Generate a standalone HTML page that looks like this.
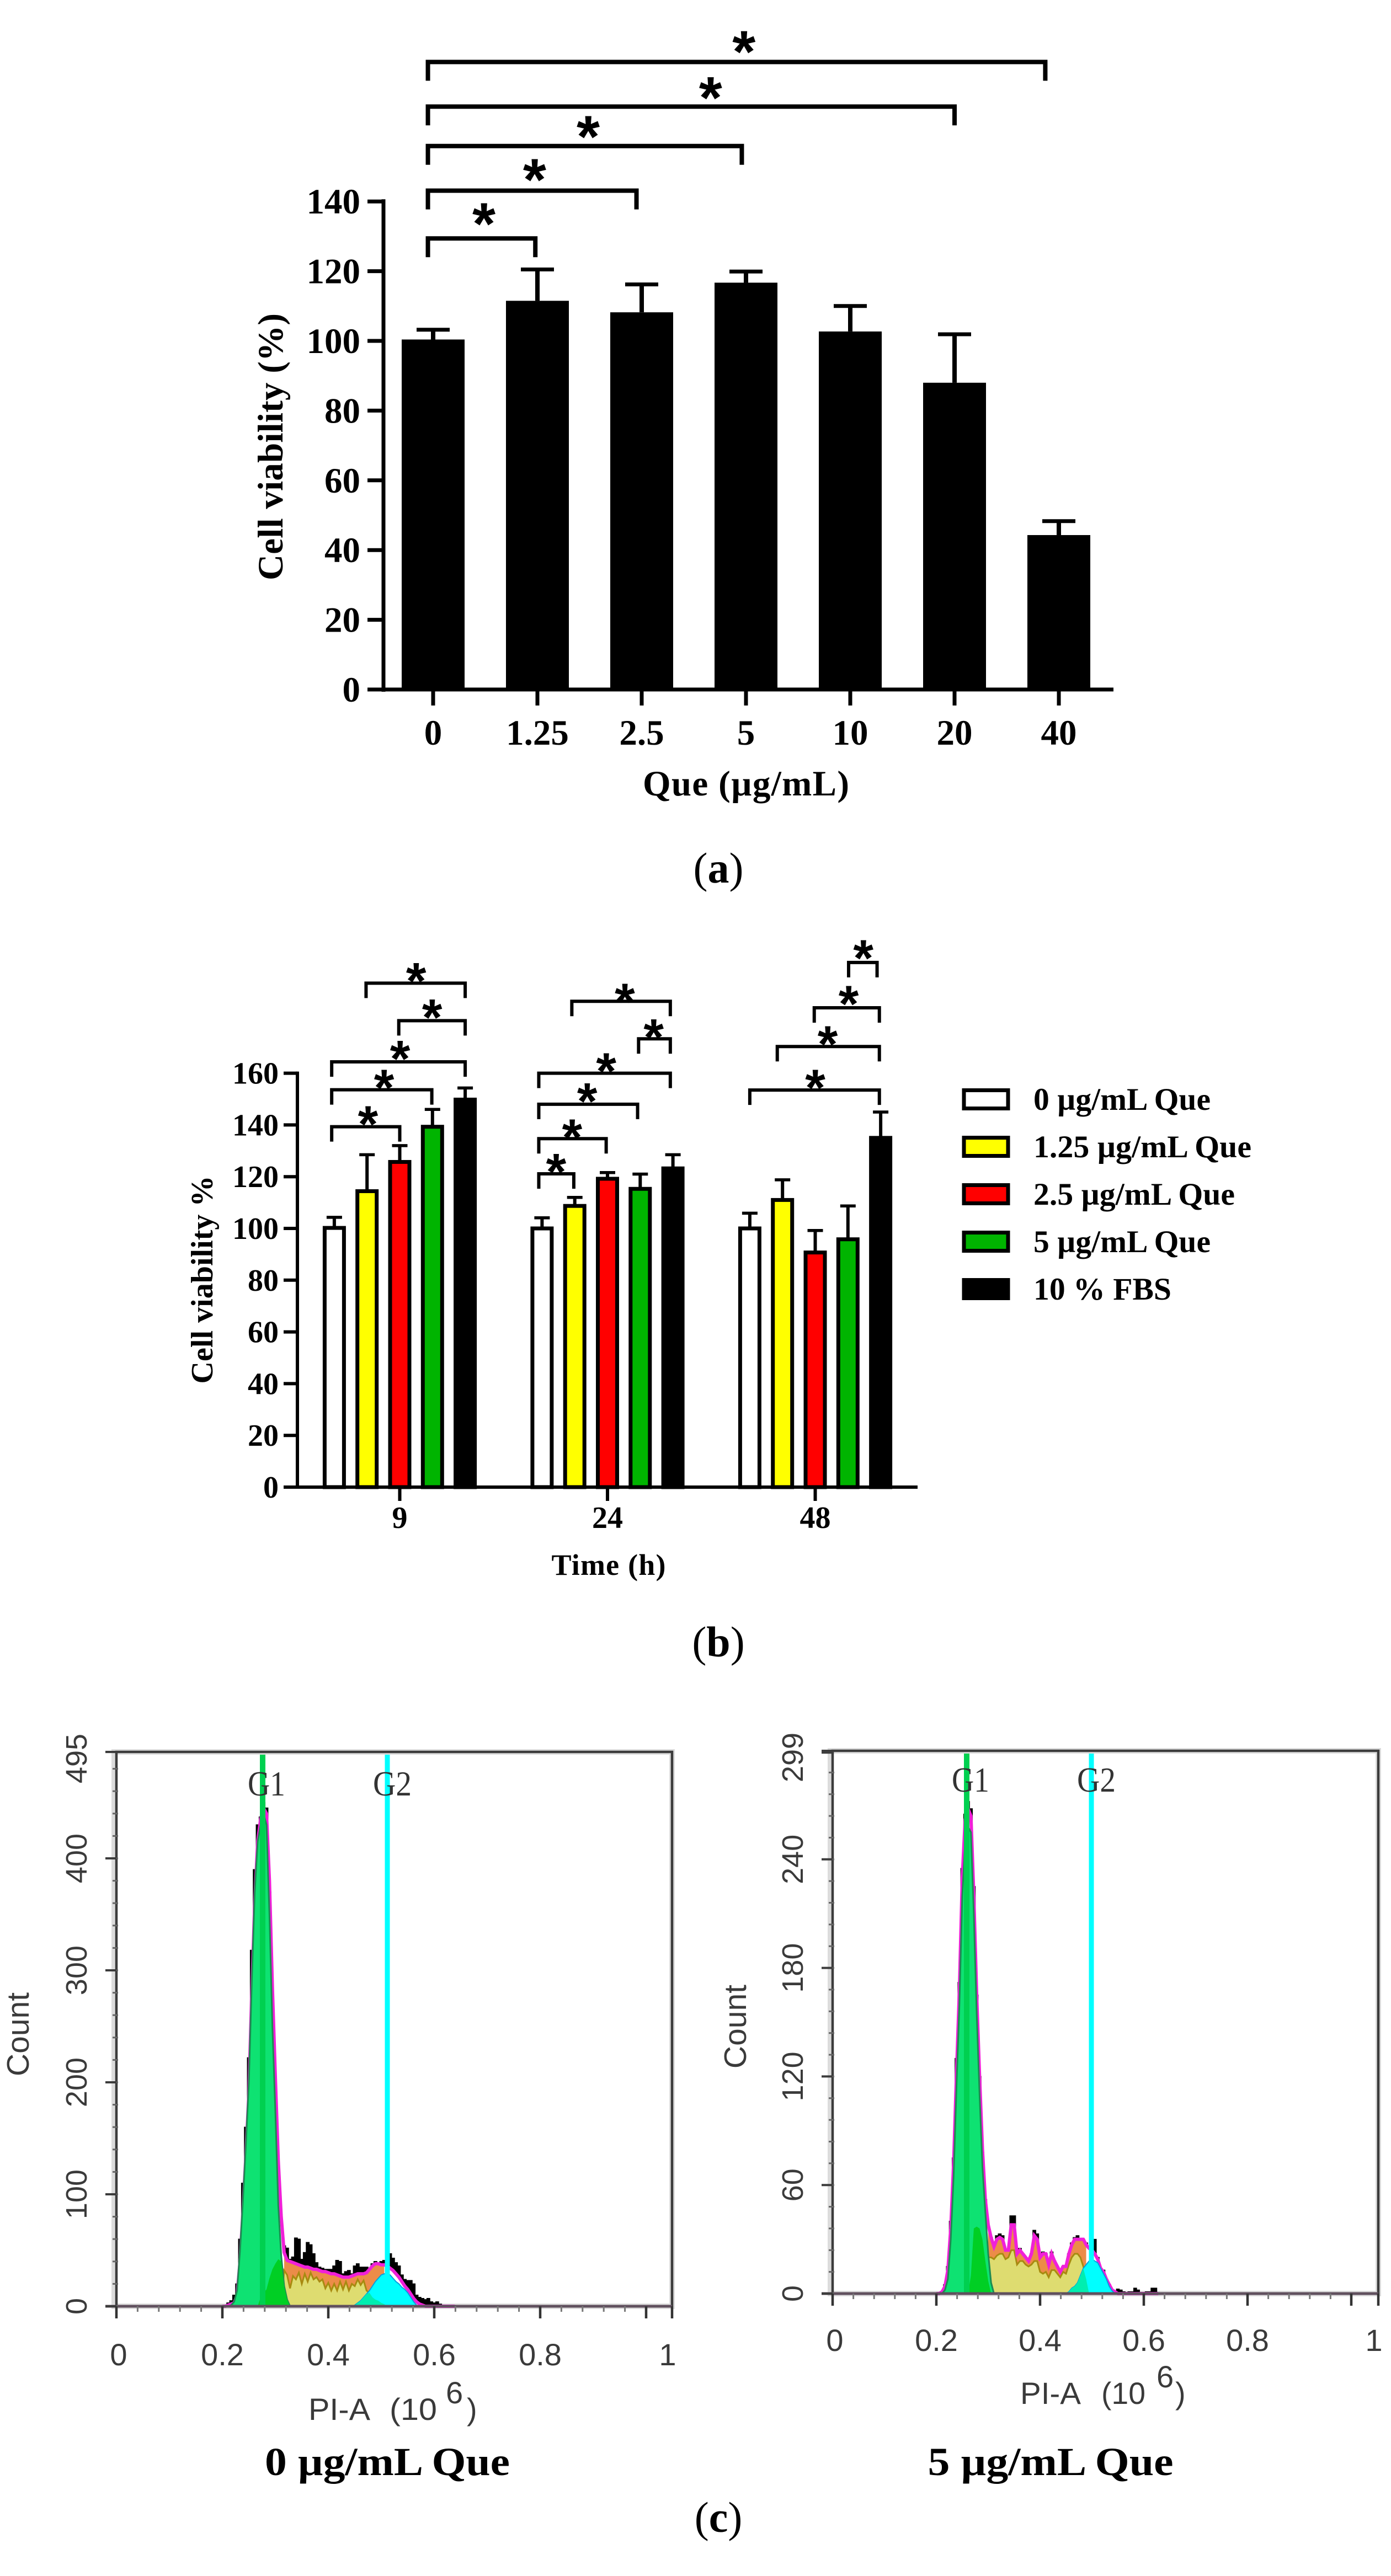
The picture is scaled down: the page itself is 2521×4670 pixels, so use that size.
<!DOCTYPE html>
<html lang="en">
<head>
<meta charset="utf-8">
<title>Cell viability and cell cycle figure</title>
<style>
html,body{margin:0;padding:0;background:#fff;}
svg{display:block;}
text{font-family:"Liberation Serif",serif;}
.sans{font-family:"Liberation Sans",sans-serif;fill:#3a3a3a;}
.star{font-family:"Liberation Sans",sans-serif;font-weight:bold;fill:#000;}
.b{font-weight:bold;fill:#000;}
</style>
</head>
<body>
<svg id="figure" xmlns="http://www.w3.org/2000/svg" width="2521" height="4670" viewBox="0 0 2521 4670">
  <rect x="0" y="0" width="2521" height="4670" fill="#fff"/>
  <g id="panelA"></g>
  <text x="1302" y="1600" font-size="78" text-anchor="middle">(<tspan font-weight="bold">a</tspan>)</text>
  <g id="panelB"></g>
  <text x="1302" y="3003" font-size="78" text-anchor="middle">(<tspan font-weight="bold">b</tspan>)</text>
  <g id="panelC1"></g>
  <g id="panelC2"></g>
  <text class="b" x="702" y="4487" font-size="72" text-anchor="middle" textLength="444" lengthAdjust="spacingAndGlyphs">0 µg/mL Que</text>
  <text class="b" x="1904" y="4487" font-size="72" text-anchor="middle" textLength="445" lengthAdjust="spacingAndGlyphs">5 µg/mL Que</text>
  <text x="1302" y="4590" font-size="78" text-anchor="middle">(<tspan font-weight="bold">c</tspan>)</text>
</svg>
<script>
// ---------- Panel A data ----------
const doseCategories = ['0','1.25','2.5','5','10','20','40'];
const doseMeans = [100.4,111.5,108.2,116.7,102.7,88,44.3];
const doseErrors = [2.8,9,8,3.2,7.3,13.9,4];
const doseTicks = [0,20,40,60,80,100,120,140];
const doseBracketTo = [0.98,1.95,2.96,5.0,5.87];
const doseBracketLevel = [129.4,143.1,155.9,167.2,180];
const doseStarAt = [0.487,0.973,1.487,2.66,2.98];
const doseStarLevel = [135.6,148.3,160.6,171.8,185];

// ---------- Panel B data ----------
const timeCategories = ['9','24','48'];
const treatmentNames = ['0 µg/mL Que','1.25 µg/mL Que','2.5 µg/mL Que','5 µg/mL Que','10 % FBS'];
const treatmentColors = ['#ffffff','#ffff00','#ff0000','#00b400','#000000'];
const meansAt9h = [100.2,114.4,125.7,139.3,149.8];
const meansAt24h = [100,108.7,119.2,115.3,123.2];
const meansAt48h = [100,111,90.7,95.8,135];
const errorsAt9h = [4.1,14.1,6.3,6.7,4.5];
const errorsAt24h = [4.1,3.3,2.4,5.7,5.3];
const errorsAt48h = [5.9,7.8,8.5,12.9,10];
const timeTicks = [0,20,40,60,80,100,120,140,160];
const timeBracketGroup = [0,0,0,0,0, 1,1,1,1,1,1, 2,2,2,2];
const timeBracketFrom = [0.97,1.97,-0.08,-0.08,-0.08, 0.91,2.95,-0.1,-0.1,-0.1,-0.1, 3.02,1.97,0.84,0];
const timeBracketTo = [4,4,4,2.98,2, 3.92,3.92,3.92,2.92,1.96,0.97, 3.89,3.96,3.96,3.96];
const timeBracketLevel = [194.8,180.3,164.4,153.6,139.3, 187.8,173.3,160,148,134.7,121.1, 202.8,185.3,170.3,153.5];
const timeStarAt = [2.5,2.99,2.01,1.52,1.03, 2.53,3.41,1.96,1.38,0.92,0.43, 3.47,3.02,2.38,2];
const timeStarLevel = [198,183.9,168,156.8,142.7, 190,176.3,163.2,151.5,137.6,124.3, 206.9,189.2,173.6,156.8];

// ---------- Panel C data (counts per PI-A bin, first bin at 0.2, bin width 1/180) ----------
const hist0 = [0,1,3,5,10,20,60,110,160,222,318,390,430,437,450,445,370,270,190,120,68,54,52,42,44,61,60,42,48,57,55,47,39,35,34,33,33,33,36,41,40,29,31,32,29,36,38,35,35,35,34,38,40,38,40,41,44,47,43,39,36,28,24,23,23,20,10,8,7,6,7,4,3,4,2,1,1,1,1,0];
const fit0 = [0,0,1,2,3,10,40,85,135,190,280,360,415,435,445,440,380,285,205,130,80,48,41,40,39,38,37,36,35,35,34,33,33,32,31,31,30,29,29,28,27,26,26,26,27,28,29,29,29,30,33,36,38,38,37,37,36,34,32,29,26,22,18,15,11,7,4,2,1,0,0,0,0,0,0,0,0,0,0,0];
const g1Fit0 = [0,0,0,1,4,14,50,95,145,200,290,370,415,430,440,430,350,250,175,90,45,18,6,0];
const g1Core0 = [0,0,0,0,0,0,0,0,0,0,0,0,0,8,12,15,25,33,38,42,40,18,6,0];
const sFit0 = [0,0,0,0,0,0,0,0,0,0,0,0,0,0,0,0,0,0,0,0,0,32,28,16,27,24,30,20,29,22,30,24,26,22,24,16,21,14,20,14,22,15,22,14,20,18,24,19,23,14,12,8,6,5,3,2,0,0,0,0,0,0,0,0,0,0,0,0,0,0,0,0,0,0,0,0,0,0,0,0];
const g2Fit0 = [0,0,0,0,0,0,0,0,0,0,0,0,0,0,0,0,0,0,0,0,0,0,0,0,0,0,0,0,0,0,0,0,0,0,0,0,0,0,0,0,0,0,0,0,0,1,3,5,8,11,14,18,22,25,28,29,29,28,25,22,20,17,15,12,8,4,1,0,0,0,0,0,0,0,0,0,0,0,0,0];
const countMajor0 = [0,100,200,300,400,495];

const hist5 = [0,0,1,5,15,40,75,130,172,235,265,272,268,225,165,120,78,52,37,31,25,32,33,32,22,24,43,43,20,25,22,19,17,22,35,33,18,23,22,14,23,18,14,10,15,13,22,28,31,32,30,30,28,26,25,30,20,14,13,8,5,2,1,2.5,2,1,0.7,1,1,3,2,0,0,1,1,3,3,0];
const fit5 = [0,0,1,4,13,36,72,122,168,230,262,268,264,220,165,120,80,52,38,31,26,30,31,30,24,24,38,38,22,24,22,20,18,22,32,30,20,22,22,16,22,18,15,12,15,15,22,27,30,30,30,30,27,25,24,22,19,14,12,8,5,2,1,0,0,0,0,0,0,0,0,0,0,0,0,0,0,0];
const g1Fit5 = [0,0,0,2,8,30,65,115,160,220,250,258,255,210,155,110,70,45,22,6,0];
const g1Core5 = [0,0,0,0,0,0,0,0,0,0,0,0,10,36,37,36,30,18,7,0,0];
const sFit5 = [0,0,0,0,0,0,0,0,0,0,0,0,0,0,0,0,0,0,20,20,19,21,22,22,19,20,24,24,16,18,18,16,15,16,18,18,12,11,12,9,13,13,11,9,12,11,16,20,22,22,20,15,8,0,0,0,0,0,0,0,0,0,0,0,0,0,0,0,0,0,0,0,0,0,0,0,0,0];
const g2Fit5 = [0,0,0,0,0,0,0,0,0,0,0,0,0,0,0,0,0,0,0,0,0,0,0,0,0,0,0,0,0,0,0,0,0,0,0,0,0,0,0,0,0,0,0,0,0,0,1,3,4,6,10,14,16,18,19,18,17,14,11,8,4,1.5,0,0,0,0,0,0,0,0,0,0,0,0,0,0,0,0];
const countMajor5 = [0,60,120,180,240,299];
const piaTicks = ['0','0.2','0.4','0.6','0.8','1'];

// ---------- helpers ----------
const SVGNS = 'http://www.w3.org/2000/svg';
function make(parent, tag, name, attrs, content) {
  const el = document.createElementNS(SVGNS, tag);
  
  
  for (const k in attrs) el.setAttribute(k, attrs[k]);
  if (content !== undefined) el.textContent = content;
  parent.appendChild(el);
  return el;
}
function line(p, name, x1, y1, x2, y2, w, color) {
  return make(p, 'line', name, {x1, y1, x2, y2, stroke: color || '#000', 'stroke-width': w});
}
function star(p, name, x, y, size) {
  return make(p, 'text', name, {class: 'star', x, y: y + size * 0.46, 'font-size': size, 'text-anchor': 'middle'}, '*');
}
function bracket(p, name, x1, x2, y, drop, w) {
  return make(p, 'path', name, {d: 'M' + x1 + ' ' + (y + drop) + 'V' + y + 'H' + x2 + 'V' + (y + drop), fill: 'none', stroke: '#000', 'stroke-width': w});
}

// ---------- Panel A ----------
(function () {
  const g = document.getElementById('panelA');
  const yA = v => 1250 - 6.32 * v;
  const xA = i => 785 + 189 * i;
  const barW = 114;
  doseMeans.forEach((m, i) => {
    const top = yA(m + doseErrors[i]);
    line(g, 'error-bar-' + doseCategories[i], xA(i), top, xA(i), yA(m), 8);
    line(g, 'error-cap-' + doseCategories[i], xA(i) - 30, top, xA(i) + 30, top, 7);
    make(g, 'rect', 'bar-' + doseCategories[i], {x: xA(i) - barW / 2, y: yA(m), width: barW, height: yA(0) - yA(m), fill: '#000'});
  });
  line(g, 'y-axis', 695, yA(140) - 4, 695, yA(0) + 4, 7);
  line(g, 'x-axis', 666, yA(0), 2018, yA(0), 7);
  doseTicks.forEach(t => {
    line(g, 'y-tick-' + t, 666, yA(t), 695, yA(t), 7);
    make(g, 'text', 'y-tick-label-' + t, {class: 'b', x: 653, y: yA(t) + 22, 'font-size': 65, 'text-anchor': 'end'}, String(t));
  });
  doseCategories.forEach((c, i) => {
    line(g, 'x-tick-' + c, xA(i), yA(0), xA(i), yA(0) + 29, 7);
    make(g, 'text', 'x-tick-label-' + c, {class: 'b', x: xA(i), y: 1350, 'font-size': 65, 'text-anchor': 'middle'}, c);
  });
  make(g, 'text', 'x-axis-title', {class: 'b', x: 1352, y: 1442, 'font-size': 65, 'text-anchor': 'middle', textLength: 374, lengthAdjust: 'spacing'}, 'Que (µg/mL)');
  make(g, 'text', 'y-axis-title', {class: 'b', x: 512, y: 810, 'font-size': 65, 'text-anchor': 'middle', transform: 'rotate(-90 512 810)', textLength: 484, lengthAdjust: 'spacing'}, 'Cell viability (%)');
  doseBracketTo.forEach((to, i) => {
    bracket(g, 'significance-bracket-' + (i + 1), xA(-0.05), xA(to), yA(doseBracketLevel[i]), 34, 8);
    star(g, 'significance-star-' + (i + 1), xA(doseStarAt[i]), yA(doseStarLevel[i]), 108);
  });
})();

// ---------- Panel B ----------
(function () {
  const g = document.getElementById('panelB');
  const yB = v => 2696 - 4.69 * v;
  const xB = (grp, bar) => 724.5 + 376.5 * grp + 59.3 * (bar - 2);
  const seriesMeans = [meansAt9h, meansAt24h, meansAt48h];
  const seriesErrors = [errorsAt9h, errorsAt24h, errorsAt48h];
  seriesMeans.forEach((means, grp) => {
    means.forEach((m, b) => {
      const cx = xB(grp, b);
      const top = yB(m + seriesErrors[grp][b]);
      line(g, 'error-bar-' + timeCategories[grp] + 'h-' + b, cx, top, cx, yB(m), 6);
      line(g, 'error-cap-' + timeCategories[grp] + 'h-' + b, cx - 14, top, cx + 14, top, 5.5);
      make(g, 'rect', 'bar-' + timeCategories[grp] + 'h-' + b, {x: cx - 17.5, y: yB(m), width: 35, height: yB(0) - yB(m), fill: treatmentColors[b], stroke: '#000', 'stroke-width': 7});
    });
  });
  line(g, 'y-axis', 539, yB(160) - 3, 539, yB(0) + 3, 6);
  line(g, 'x-axis', 514, yB(0), 1663, yB(0), 6);
  timeTicks.forEach(t => {
    line(g, 'y-tick-' + t, 514, yB(t), 539, yB(t), 6);
    make(g, 'text', 'y-tick-label-' + t, {class: 'b', x: 505, y: yB(t) + 19, 'font-size': 56, 'text-anchor': 'end'}, String(t));
  });
  timeCategories.forEach((c, i) => {
    line(g, 'x-tick-' + c, xB(i, 2), yB(0), xB(i, 2), yB(0) + 25, 6);
    make(g, 'text', 'x-tick-label-' + c, {class: 'b', x: xB(i, 2), y: 2770, 'font-size': 56, 'text-anchor': 'middle'}, c);
  });
  make(g, 'text', 'x-axis-title', {class: 'b', x: 1103, y: 2855, 'font-size': 54, 'text-anchor': 'middle', textLength: 207, lengthAdjust: 'spacing'}, 'Time (h)');
  make(g, 'text', 'y-axis-title', {class: 'b', x: 385, y: 2320, 'font-size': 56, 'text-anchor': 'middle', transform: 'rotate(-90 385 2320)', textLength: 377, lengthAdjust: 'spacing'}, 'Cell viability %');
  timeBracketGroup.forEach((grp, i) => {
    bracket(g, 'significance-bracket-' + (i + 1), xB(grp, timeBracketFrom[i]), xB(grp, timeBracketTo[i]), yB(timeBracketLevel[i]), 27, 6);
    star(g, 'significance-star-' + (i + 1), xB(grp, timeStarAt[i]), yB(timeStarLevel[i]), 94);
  });
  const legendTops = i => 1973 + 86 * i;
  const legendWidths = [321, 395, 365, 321, 250];
  treatmentNames.forEach((n, i) => {
    make(g, 'rect', 'legend-swatch-' + i, {x: 1747, y: legendTops(i) + 3.5, width: 80, height: 33, fill: treatmentColors[i], stroke: '#000', 'stroke-width': 7});
    make(g, 'text', 'legend-label-' + i, {class: 'b', x: 1873, y: legendTops(i) + 39, 'font-size': 57, textLength: legendWidths[i], lengthAdjust: 'spacingAndGlyphs'}, n);
  });
})();

// ---------- Panel C ----------
function histogramPanel(g, o) {
  const X = v => o.x0 + o.xk * v;
  const Y = c => o.y0 - o.yk * c;
  const binX = k => X(0.2 + k / 180);
  const halfBin = (binX(1) - binX(0)) / 2;
  const at = (arr, k) => (k < arr.length ? arr[k] : 0);
  const areaPath = arr => {
    let d = 'M' + binX(0) + ' ' + Y(0);
    arr.forEach((c, k) => { d += 'L' + binX(k) + ' ' + Y(c); });
    return d + 'L' + binX(arr.length - 1) + ' ' + Y(0) + 'Z';
  };
  const linePath = arr => arr.map((c, k) => (k ? 'L' : 'M') + binX(k) + ' ' + Y(c)).join('');
  const stepPath = arr => {
    let d = 'M' + (binX(0) - halfBin) + ' ' + Y(0);
    arr.forEach((c, k) => { d += 'V' + Y(c) + 'H' + (binX(k) + halfBin); });
    return d + 'V' + Y(0) + 'Z';
  };
  make(g, 'path', 'axis-halo', {d: 'M' + (o.left - 4) + ' ' + o.bottom + 'V' + o.top + 'H' + o.right + 'V' + o.bottom + 'Z', fill: 'none', stroke: '#dcdcdc', 'stroke-width': 10});
  make(g, 'path', 'measured-histogram', {d: stepPath(o.hist), fill: '#000', stroke: '#000', 'stroke-width': 1.5});
  make(g, 'path', 'fit-under-area', {d: areaPath(o.fit), fill: '#fff'});
  make(g, 'path', 's-phase-fit', {d: areaPath(o.s), fill: '#dedc70'});
  const band = [];
  o.s.forEach((c, k) => { if (c > 0) band.push([k, c]); });
  let bandD = '';
  band.forEach((p, i) => { bandD += (i ? 'L' : 'M') + binX(p[0]) + ' ' + Y(at(o.fit, p[0])); });
  band.slice().reverse().forEach(p => { bandD += 'L' + binX(p[0]) + ' ' + Y(p[1]); });
  make(g, 'path', 's-phase-residual-band', {d: bandD + 'Z', fill: '#ec8c48'});
  make(g, 'path', 's-phase-edge', {d: linePath(o.s), fill: 'none', stroke: '#a88a10', 'stroke-width': 3});
  make(g, 'path', 'fit-outline', {d: linePath(o.fit), fill: 'none', stroke: '#f020d8', 'stroke-width': 6});
  make(g, 'path', 'g1-phase-fit', {d: areaPath(o.g1), fill: '#0ee272', stroke: '#1d8a52', 'stroke-width': 3});
  make(g, 'path', 'g1-phase-core', {d: areaPath(o.core), fill: '#00cf24'});
  make(g, 'path', 'g2-phase-fit', {d: areaPath(o.g2), fill: '#00ffff', stroke: '#00a0e0', 'stroke-width': 2});
  make(g, 'path', 'g1-s-overlap', {d: areaPath(o.g2.map((c, k) => Math.min(c, at(o.s, k)))), fill: '#00eeb0'});
  line(g, 'g1-marker-line', o.g1x, o.top + 5, o.g1x, o.bottom, 10, '#00d050');
  line(g, 'g2-marker-line', o.g2x, o.top + 5, o.g2x, o.bottom, 9, '#00ffff');
  make(g, 'text', 'g1-label', {x: o.g1Label, y: o.gBase, 'font-size': 64, 'text-anchor': 'middle', fill: '#333', textLength: 68, lengthAdjust: 'spacingAndGlyphs'}, 'G1');
  make(g, 'text', 'g2-label', {x: o.g2Label, y: o.gBase, 'font-size': 64, 'text-anchor': 'middle', fill: '#333', textLength: 70, lengthAdjust: 'spacingAndGlyphs'}, 'G2');
  make(g, 'path', 'plot-frame', {d: 'M' + o.left + ' ' + o.bottom + 'V' + o.top + 'H' + o.right + 'V' + o.bottom, fill: 'none', stroke: '#3c3c3c', 'stroke-width': 4.5});
  line(g, 'top-frame-tick', o.left - 20, o.top, o.left, o.top, 4, '#3c3c3c');
  line(g, 'x-axis', o.left - 20, o.bottom, o.right, o.bottom, 5, '#60505e');
  for (let c = 0; c <= o.maxCount; c += o.minorStep) {
    line(g, 'y-minor-tick', o.left - 7, Y(c), o.left + 3, Y(c), 3, '#666');
  }
  o.major.forEach(c => {
    const ty = Y(c);
    line(g, 'y-major-tick-' + c, o.left - 20, ty, o.left, ty, 4, '#3c3c3c');
    const ly = Math.max(ty, o.top + 12);
    make(g, 'text', 'y-tick-label-' + c, {class: 'sans', x: o.yLabelX, y: ly, 'font-size': 54, 'text-anchor': 'middle', transform: 'rotate(-90 ' + o.yLabelX + ' ' + ly + ')'}, String(c));
  });
  for (let v = 0; v <= 1.02; v += 0.04) {
    line(g, 'x-minor-tick', X(v), o.bottom, X(v), o.bottom + 10, 3, '#777');
  }
  piaTicks.forEach((t, i) => {
    const v = Number(t);
    line(g, 'x-major-tick-' + t, X(v), o.bottom, X(v), o.bottom + 22, 4.5, '#333');
    make(g, 'text', 'x-tick-label-' + t, {class: 'sans', x: i === 5 ? o.lastLabel : (i === 0 ? X(v) + 4 : X(v)), y: o.xLabelBase, 'font-size': 56, 'text-anchor': 'middle'}, t);
  });
  line(g, 'x-end-tick', o.right, o.bottom, o.right, o.bottom + 22, 4.5, '#333');
  make(g, 'text', 'y-axis-title', {class: 'sans', x: o.countX, y: o.countY, 'font-size': 57, 'text-anchor': 'middle', transform: 'rotate(-90 ' + o.countX + ' ' + o.countY + ')'}, 'Count');
  make(g, 'text', 'x-axis-title', {class: 'sans', x: o.piaX, y: o.piaBase, 'font-size': 56, textLength: o.piaLen, lengthAdjust: 'spacingAndGlyphs'}, 'PI-A');
  make(g, 'text', 'x-axis-unit', {class: 'sans', x: o.unitX, y: o.piaBase, 'font-size': 56, textLength: o.unitLen, lengthAdjust: 'spacingAndGlyphs'}, '(10');
  make(g, 'text', 'x-axis-unit-exponent', {class: 'sans', x: o.expX, y: o.piaBase - 30, 'font-size': 56}, '6');
  make(g, 'text', 'x-axis-unit-close', {class: 'sans', x: o.closeX, y: o.piaBase, 'font-size': 56}, ')');
}

histogramPanel(document.getElementById('panelC1'), {
  hist: hist0, fit: fit0, g1: g1Fit0, core: g1Core0, s: sFit0, g2: g2Fit0, major: countMajor0,
  maxCount: 480, minorStep: 20,
  x0: 211, xk: 960, y0: 4181, yk: 2.03,
  left: 211, right: 1218, top: 3176, bottom: 4181,
  g1x: 476, g2x: 702, g1Label: 483, g2Label: 711, gBase: 3255,
  yLabelX: 157, xLabelBase: 4288, lastLabel: 1210,
  countX: 52, countY: 3688,
  piaX: 559, piaLen: 112, piaBase: 4387, unitX: 706, unitLen: 86, expX: 808, closeX: 846
});
histogramPanel(document.getElementById('panelC2'), {
  hist: hist5, fit: fit5, g1: g1Fit5, core: g1Core5, s: sFit5, g2: g2Fit5, major: countMajor5,
  maxCount: 288, minorStep: 12,
  x0: 1509, xk: 940, y0: 4158, yk: 3.28,
  left: 1509, right: 2498, top: 3174, bottom: 4158,
  g1x: 1752, g2x: 1978, g1Label: 1759, g2Label: 1987, gBase: 3248,
  yLabelX: 1455, xLabelBase: 4262, lastLabel: 2490,
  countX: 1352, countY: 3674,
  piaX: 1849, piaLen: 110, piaBase: 4358, unitX: 1996, unitLen: 80, expX: 2096, closeX: 2130
});
</script>
</body>
</html>
